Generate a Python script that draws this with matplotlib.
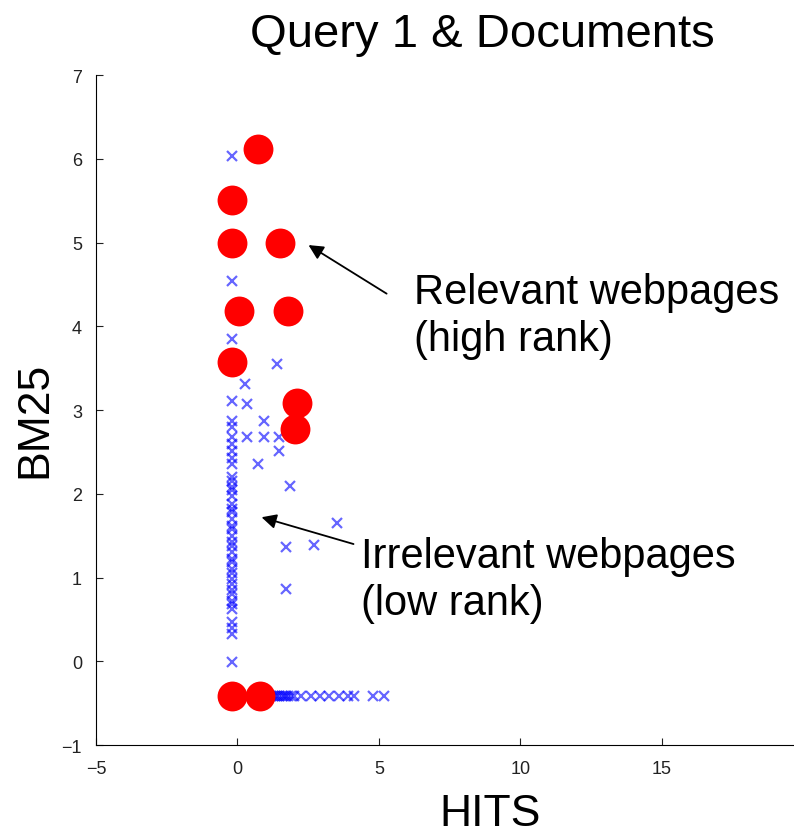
import numpy as np
import matplotlib.pyplot as plt

plt.rcParams['font.family'] = ['Liberation Sans', 'DejaVu Sans']

# relevant pages (red dots)
rel_hits = [0.71, -0.21, -0.21, 1.52, 0.07, 1.77, -0.21, 2.12, 2.05, -0.21, 0.81]
rel_bm25 = [6.12, 5.51, 5.00, 5.00, 4.18, 4.18, 3.57, 3.08, 2.77, -0.41, -0.41]

# irrelevant pages (blue crosses) - column near HITS=0
col_bm25 = [6.03, 4.54, 3.85, 3.11, 2.87, 2.80, 2.68, 2.60, 2.51, 2.43, 2.36,
            2.20, 2.15, 2.08, 2.05, 1.97, 1.88, 1.82, 1.78, 1.70, 1.62, 1.58,
            1.50, 1.42, 1.38, 1.30, 1.22, 1.18, 1.10, 1.05, 0.98, 0.92, 0.85,
            0.80, 0.72, 0.68, 0.62, 0.47, 0.40, 0.33, -0.01]
col_hits = [-0.21] * len(col_bm25)

# scattered ones
scat_hits = [1.38, 0.28, 0.32, 0.92, 0.92, 0.32, 1.45, 1.45, 0.74, 1.84, 3.50, 1.73, 2.70, 1.73]
scat_bm25 = [3.55, 3.31, 3.07, 2.87, 2.68, 2.68, 2.68, 2.51, 2.36, 2.09, 1.65, 1.36, 1.39, 0.86]

# bottom row (BM25 ~ -0.41)
row_hits = [0.85, 0.95, 1.02, 1.10, 1.18, 1.25, 1.31, 1.40, 1.48, 1.56, 1.64,
            1.72, 1.80, 1.88, 2.00, 2.26, 2.61, 2.90, 3.25, 3.57, 3.92, 4.13, 4.80, 5.19]
row_bm25 = [-0.41] * len(row_hits)

irr_hits = col_hits + scat_hits + row_hits
irr_bm25 = col_bm25 + scat_bm25 + row_bm25

fig = plt.figure(figsize=(7.94, 8.37), dpi=100)
ax = fig.add_axes([0.1209, 0.1087, 0.891, 0.8004])

ax.plot(irr_hits, irr_bm25, 'x', color='blue', alpha=0.6, markersize=7, mew=1.6)
ax.plot(rel_hits, rel_bm25, 'o', color='red', markersize=21.5, mec='none')

ax.set_xlim(-5, 20)
ax.set_ylim(-1, 7)
ax.set_xticks([-5, 0, 5, 10, 15])
ax.set_yticks(range(-1, 8))
ax.tick_params(direction='in', length=5, labelsize=13, colors='#222222')
ax.tick_params(axis='x', pad=11)
ax.tick_params(axis='y', pad=10)
ax.spines['top'].set_visible(False)
ax.spines['right'].set_visible(False)

fig.text(482/794, 1 - 35/837, 'Query 1 & Documents', ha='center', va='center', fontsize=34)
fig.text(490/794, 1 - 815/837, 'HITS', ha='center', va='center', fontsize=32)
fig.text(35/794, 1 - 420/837, 'BM25', ha='center', va='center', fontsize=32, rotation=90)

# annotations
ax.text(6.25, 4.13, 'Relevant webpages\n(high rank)', fontsize=30,
        ha='left', va='center', linespacing=1.22)
ax.annotate('', xy=(2.51, 4.97), xytext=(5.27, 4.39),
            arrowprops=dict(arrowstyle='-|>', color='black', lw=1.3,
                            mutation_scale=22, shrinkA=0, shrinkB=0))
ax.text(4.38, 0.98, 'Irrelevant webpages\n(low rank)', fontsize=30,
        ha='left', va='center', linespacing=1.22)
ax.annotate('', xy=(0.85, 1.72), xytext=(4.10, 1.40),
            arrowprops=dict(arrowstyle='-|>', color='black', lw=1.3,
                            mutation_scale=22, shrinkA=0, shrinkB=0))

fig.savefig('out.png', dpi=100)
